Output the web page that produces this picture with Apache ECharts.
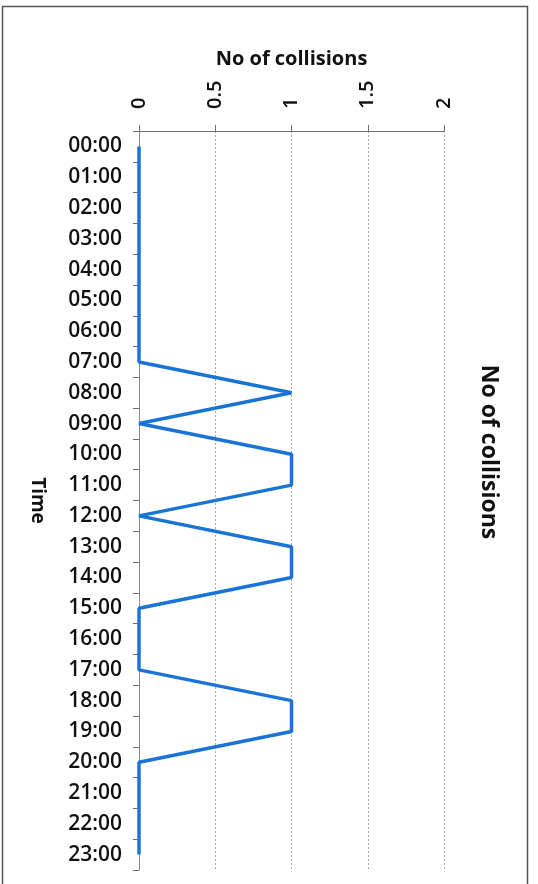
<!DOCTYPE html>
<html>
<head>
<meta charset="utf-8">
<script src="https://cdn.jsdelivr.net/npm/echarts@6/dist/echarts.min.js"></script>
<style>
  html, body { margin: 0; padding: 0; background: #fff; }
  #chart { width: 538px; height: 884px; }
</style>
</head>
<body>
<div id="chart"></div>
<script>
// Hourly time slots (category axis, top to bottom)
const hours = ['00:00','01:00','02:00','03:00','04:00','05:00','06:00','07:00',
               '08:00','09:00','10:00','11:00','12:00','13:00','14:00','15:00',
               '16:00','17:00','18:00','19:00','20:00','21:00','22:00','23:00'];
// Number of collisions recorded in each hour
const collisions = [0,0,0,0,0,0,0,0,
                    1,0,1,1,0,1,1,0,
                    0,0,1,1,0,0,0,0];

const titleText = 'No of collisions';
const valueAxisName = 'No of collisions';
const categoryAxisName = 'Time';

const FONT = '"Open Sans", "Liberation Sans", sans-serif';

const chart = echarts.init(document.getElementById('chart'), null, { renderer: 'canvas' });

chart.setOption({
  animation: false,
  backgroundColor: '#ffffff',
  grid: { left: 139, right: 94, top: 131, bottom: 14, containLabel: false },
  xAxis: {
    type: 'value',
    position: 'top',
    min: 0,
    max: 2,
    interval: 0.5,
    name: valueAxisName,
    nameLocation: 'middle',
    nameGap: 62,
    nameTextStyle: { fontFamily: FONT, fontWeight: 'bold', fontSize: 20, color: '#111' },
    axisLine: { show: true, lineStyle: { color: '#6e6e6e', width: 1 } },
    axisTick: { show: true, length: 6, lineStyle: { color: '#6e6e6e' } },
    axisLabel: {
      rotate: -90,
      margin: 22,
      fontFamily: FONT,
      fontSize: 20,
      fontWeight: 600,
      color: '#111'
    },
    splitLine: { show: true, lineStyle: { color: '#a8a8a8', type: [2, 2], width: 1 } }
  },
  yAxis: {
    type: 'category',
    data: hours,
    inverse: true,
    boundaryGap: true,
    name: categoryAxisName,
    nameLocation: 'middle',
    nameGap: 92,
    nameRotate: -90,
    nameTextStyle: { fontFamily: FONT, fontWeight: 'bold', fontSize: 19, color: '#111' },
    axisLine: { show: true, lineStyle: { color: '#8a8a8a', width: 1 } },
    axisTick: { show: true, length: 6, lineStyle: { color: '#6e6e6e' } },
    axisLabel: {
      margin: 17,
      fontFamily: FONT,
      fontSize: 21,
      fontWeight: 600,
      color: '#111'
    },
    splitLine: { show: false }
  },
  series: [{
    type: 'line',
    data: collisions,
    showSymbol: false,
    symbol: 'none',
    lineStyle: { color: '#1a74d6', width: 3.5, join: 'bevel' },
    itemStyle: { color: '#1a74d6' }
  }],
  graphic: [
    {
      type: 'polyline',
      silent: true,
      shape: { points: [[2.5, 884], [2.5, 6.5], [527.5, 6.5], [527.5, 884]] },
      style: { fill: null, stroke: '#555555', lineWidth: 1.5 }
    },
    {
      type: 'text',
      silent: true,
      x: 489,
      y: 452,
      rotation: -Math.PI / 2,
      style: {
        text: titleText,
        font: 'bold 23px ' + FONT,
        fill: '#111',
        textAlign: 'center',
        textVerticalAlign: 'middle'
      }
    }
  ]
});
</script>
</body>
</html>
